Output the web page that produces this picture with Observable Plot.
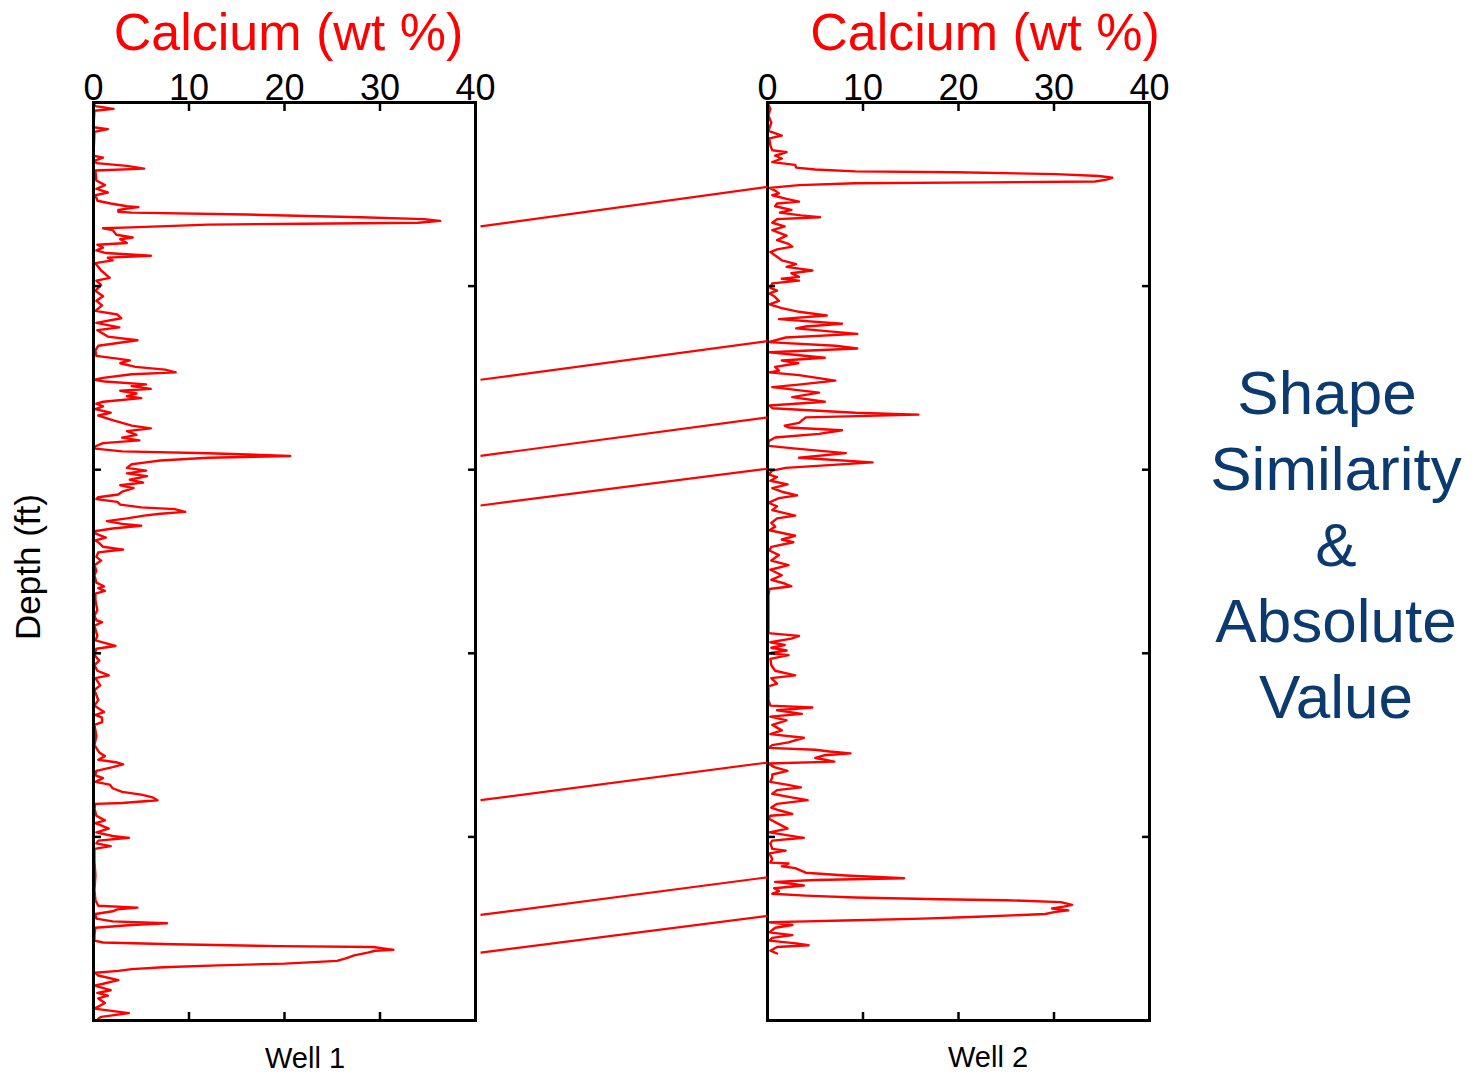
<!DOCTYPE html>
<html><head><meta charset="utf-8">
<script src="https://cdn.jsdelivr.net/npm/d3@7"></script>
<script src="https://cdn.jsdelivr.net/npm/@observablehq/plot@0.6"></script>
<style>
body{margin:0;background:#fff;}
#wrap{position:relative;width:1477px;height:1078px;overflow:hidden;font-family:"Liberation Sans",Arial,Helvetica,sans-serif;}
.abs{position:absolute;white-space:nowrap;}
.title{color:#ff0000;font-size:52px;line-height:52px;text-align:center;width:420px;}
.well{color:#000;font-size:29px;line-height:29px;text-align:center;width:200px;}
.side{color:#0b3a6e;font-size:62px;line-height:76px;text-align:center;width:300px;}
</style></head><body><div id="wrap"></div>
<script>
// Well 1: depth (ft, 0 = top of section) and calcium (wt %)
const well1Depth = [1,4,7,9,27,29,32,58,60,63,66,69,72,74,85,90,94,98,101,107,110,113,114,117,119,120,122,125,127,129,131,132,133,136,137,139,144,147,149,153,155,158,161,164,167,169,172,175,183,191,194,199,205,211,216,221,227,231,235,240,245,248,255,259,265,270,276,279,281,284,288,291,294,296,300,302,304,307,309,312,314,317,320,322,326,328,331,334,338,341,346,352,355,358,362,365,368,371,375,377,380,382,385,387,390,392,394,398,401,404,407,411,414,417,420,424,427,430,432,435,438,441,443,446,448,450,453,456,459,461,464,467,470,474,477,480,484,487,490,495,499,504,510,515,523,527,529,532,535,542,553,559,564,566,570,581,586,592,595,602,608,613,619,624,627,635,640,651,657,664,667,670,675,678,690,700,708,712,716,719,721,724,728,733,736,740,743,747,751,754,757,760,763,764,769,777,782,785,791,795,799,801,804,807,810,813,826,842,858,869,875,877,879,881,884,889,892,894,896,899,907,913,915,917,919,920,923,924,926,929,932,935,938,940,942,944,946,948,951,956,960,962,967,970,973,976,981,987,992,996,998];
const well1Ca = [0,0.2,2.1,0.1,0,1.5,0.1,0,1.0,0.2,0.3,3.5,5.3,0.2,0.3,1.2,0.3,1.5,0.2,0.4,1.8,3.5,4.7,2.6,2.6,4.0,16,28,34.6,36.3,34,22,12,3.9,1.0,2.0,2.4,4.1,2.8,3.5,0.4,1.0,0.3,1.3,6.0,1.5,2.0,0.2,0.8,1.7,0.3,0.8,0.2,1.0,0.3,0.9,0.2,2.5,2.9,0.3,2.7,0.4,1.5,4.6,0.5,0.2,0.3,2.5,3.8,2.8,4.4,7.5,8.6,4,1.0,0.1,1.2,5.5,4.0,6.0,2.8,4.5,3.5,5.0,1.0,0.3,1.0,0.2,1.8,0.5,2.0,4.0,6.0,3.5,4.5,3.0,4.8,1.0,0.1,0.2,3.0,12,20.6,12,7.0,5.5,4.0,3.5,5.5,3.5,5.6,3.8,5.2,2.8,4.2,3.0,2.6,0.5,0.3,2.5,2.8,5,8.5,9.6,7,5.3,3.5,1.4,3.0,5.0,2.0,0.1,0.3,1.3,0.2,0.6,1.0,3.1,0.5,0.3,0.8,0.1,0.3,0.1,0.3,1.1,0.5,1.2,0.2,0.2,0.4,0.1,0.3,0.9,0.1,0.4,0.2,2.3,0.3,0.1,0.6,0.1,0.4,1.6,0.2,0.7,0.1,0.5,0.1,1.1,0.2,0.9,0.9,0.1,0.3,0.1,0.6,1.2,0.5,2.5,3.1,2.0,0.3,0.2,1.0,0.2,1.7,2.0,3.0,5.0,6.2,6.7,3,0.2,0.1,0.3,1.2,0.2,1.6,0.3,2.0,3.7,0.5,0.3,1.8,0.1,0.1,0.2,0.1,0.2,0.5,4.6,2.5,2.0,0.2,0.3,2.0,7.7,4.0,0.2,0.1,0.1,1.0,8.4,19.6,29.3,31.4,29.5,28.7,27.3,26.5,25.5,20,13,7.3,4.0,2.6,0.2,0.5,2.6,1.0,0.1,1.8,0.4,1.5,0.5,1.2,0.1,3.7,0.8,0.5];

// Well 2
const well2Depth = [0,7,14,22,31,36,39,47,52,54,58,61,65,68,71,73,75,76,78,80,82,84,86,87,88,90,93,96,99,101,105,108,110,113,117,120,123,125,127,131,135,139,145,150,154,157,160,163,168,172,176,179,183,186,190,192,194,197,202,205,208,211,216,220,224,228,232,236,241,244,246,252,256,261,265,268,272,278,281,284,288,292,294,297,303,307,310,316,321,326,330,333,338,340,343,349,352,354,357,361,365,369,374,377,382,387,392,398,401,405,408,412,416,420,424,428,431,436,440,444,450,453,458,462,466,472,476,479,484,488,493,499,504,509,515,520,524,527,530,537,553,570,578,581,584,588,591,594,597,600,602,606,613,619,624,627,633,636,651,657,659,662,666,669,673,678,684,688,692,697,700,703,705,707,709,711,714,716,718,720,724,728,732,735,740,743,746,749,753,757,760,764,768,771,775,777,780,785,791,795,801,804,807,813,815,818,824,828,829,832,834,839,842,845,847,849,851,853,856,859,862,864,866,868,869,871,874,876,878,880,882,884,887,889,891,892,893,896,899,904,907,910,913,916,918,920,924,927];
const well2Ca = [0,0.3,0.1,0.4,0.1,1.5,0.2,0.3,0.5,2.0,0.8,1.5,0.5,2.9,3.0,5,9.2,19.7,30.2,34.7,36.1,35.5,34.3,23,9.2,3.3,0.2,0.8,1.2,0.5,2.0,3.3,1.0,0.8,2.5,1.3,3.5,5.5,1.0,0.5,1.8,0.5,2.0,1.0,2.2,2.6,1.0,0.3,1.0,1.5,3.0,2.0,4.7,2.5,3.3,1.5,3.3,0.5,0.3,1.0,0.2,0.7,1.2,0.2,1.5,3.3,6.2,1.2,7.8,4,3.0,9.4,1.9,0.1,7.1,9.4,0.2,6.0,1.5,3.2,0.8,1.2,0.2,3.3,7.1,3.5,0.5,5.4,2.6,6.0,0.2,0.5,9.2,15.8,4.0,3.3,1.8,2.2,7.8,5.4,0.8,0.1,0.1,3.0,8.2,3.3,11,1.9,0.5,0.1,1.0,0.3,2.1,0.5,1.5,3.1,1.2,0.1,1.0,0.5,2.9,1.0,0.4,0.8,0.2,2.9,1.5,2.7,0.4,0.2,1.2,0.4,2.2,0.3,1.5,0.4,1.8,2.5,0.2,0.1,0.1,0.1,0.1,3.3,2.5,0.3,1.8,0.4,2.0,0.2,2.2,0.3,0.4,0.8,2.9,0.4,1.0,0.1,0.1,0.3,4.7,1.0,3.6,0.3,2.0,0.5,1.5,0.3,3.8,2.2,0.5,0.1,5.0,6.5,8.7,6.0,5.0,6.0,7.0,0.1,0.7,2.1,0.5,0.5,0.3,2.0,3.5,1.0,0.5,2.5,4.2,1.0,0.4,1.2,2.6,0.3,0.1,1.0,2.1,0.2,3.8,0.5,0.3,0.5,1.9,0.2,0.5,0.3,2.2,1.5,2.9,4.0,8.2,14.3,5,0.8,2.5,3.8,0.7,1.2,0.5,4,9.2,18,25,30.7,31.9,31.0,29.8,31.5,30,29.1,22,16.2,8,4,0.2,2.6,0.8,0.2,2.6,0.5,0.2,3.0,4.3,1.0,0.3,1.0];

// Correlated horizons (depth in well 1 -> depth in well 2)
const corrWell1Depth = [135, 302, 385, 439, 760, 885, 926];
const corrWell2Depth = [92, 260, 343, 399, 719, 844, 886];

const caTicks = [0, 10, 20, 30, 40];
const depthTicks = [200, 400, 600, 800];
const depthDomain = [0, 1000];
const caDomain = [0, 40];
const panelTitle = "Calcium (wt %)";
const wellNames = ["Well 1", "Well 2"];
const sideText = ["Shape", "Similarity", "&", "Absolute", "Value"];

const FONT = "Liberation Sans, Arial, Helvetica, sans-serif";
const wrap = document.getElementById("wrap");

function place(node, left, top) {
  node.style.position = "absolute";
  node.style.left = left + "px";
  node.style.top = top + "px";
  wrap.appendChild(node);
}

function panel(depth, ca) {
  const data = depth.map((d, i) => ({depth: d, ca: ca[i]}));
  return Plot.plot({
    width: 520, height: 1078,
    marginLeft: 93, marginRight: 45, marginTop: 102, marginBottom: 58,
    x: {domain: caDomain},
    y: {domain: depthDomain, reverse: true},
    style: {fontFamily: FONT, background: "transparent", overflow: "visible", color: "black"},
    marks: [
      Plot.line(data, {x: "ca", y: "depth", stroke: "#ff0000", strokeWidth: 2.4, strokeLinejoin: "round"}),
      Plot.axisX(caTicks, {anchor: "top", tickSize: -8, tickPadding: 11, fontSize: 36, strokeWidth: 2.5, label: null}),
      Plot.axisX(caTicks, {anchor: "bottom", tickSize: -8, tickFormat: () => "", strokeWidth: 2.5, label: null}),
      Plot.axisY(depthTicks, {anchor: "left", tickSize: -8, tickFormat: () => "", strokeWidth: 2.5, label: null}),
      Plot.axisY(depthTicks, {anchor: "right", tickSize: -8, tickFormat: () => "", strokeWidth: 2.5, label: null}),
      Plot.frame({stroke: "black", strokeWidth: 3})
    ]
  });
}

place(panel(well1Depth, well1Ca), 0, 0);
place(panel(well2Depth, well2Ca), 674, 0);

const corr = corrWell1Depth.map((d, i) => ({d1: d, d2: corrWell2Depth[i]}));
const links = Plot.plot({
  width: 287, height: 1078,
  marginLeft: 0, marginRight: 0, marginTop: 102, marginBottom: 58,
  x: {domain: [0, 1], axis: null},
  y: {domain: depthDomain, reverse: true, axis: null},
  style: {background: "transparent", overflow: "visible"},
  marks: [
    Plot.link(corr, {x1: () => 0, x2: () => 1, y1: "d1", y2: "d2", stroke: "#ff0000", strokeWidth: 2.2})
  ]
});
place(links, 480, 0);

function textDiv(cls, txt) {
  const d = document.createElement("div");
  d.className = "abs " + cls;
  d.textContent = txt;
  return d;
}
place(textDiv("title", panelTitle), 288.5 - 210, 6);
place(textDiv("title", panelTitle), 985 - 210, 6);
place(textDiv("well", wellNames[0]), 305 - 100, 1044);
place(textDiv("well", wellNames[1]), 988 - 100, 1043);

// side annotation, one line per row (first line sits slightly left in the original)
const sideCenters = [1327, 1336, 1336, 1336, 1336];
sideText.forEach((t, i) => {
  place(textDiv("side", t), sideCenters[i] - 150, 355 + i * 76);
});

const depthLab = document.createElement("div");
depthLab.className = "abs";
depthLab.textContent = "Depth (ft)";
Object.assign(depthLab.style, {width: "220px", height: "40px", lineHeight: "40px", fontSize: "35px", textAlign: "center", transform: "rotate(-90deg)", color: "#000"});
place(depthLab, 28 - 110, 567 - 20);
</script></body></html>
